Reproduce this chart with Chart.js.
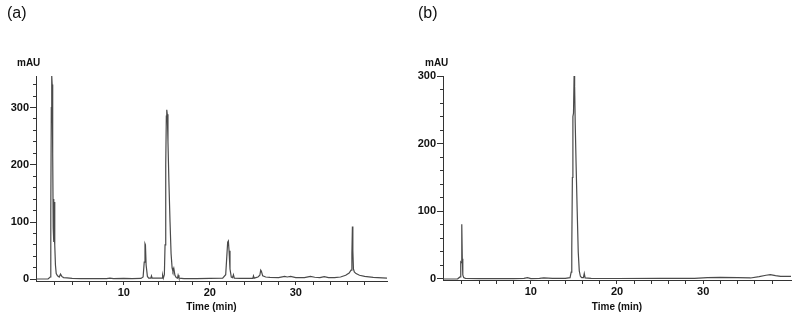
<!DOCTYPE html>
<html>
<head>
<meta charset="utf-8">
<script src="https://cdn.jsdelivr.net/npm/chart.js@4.4.1/dist/chart.umd.min.js"></script>
<style>
    body { margin: 0; background: #fff; }
    #wrap { position: relative; width: 800px; height: 320px; font-family: "Liberation Sans", Arial, sans-serif; color: #111; }
    .panel { position: absolute; top: 0; width: 400px; height: 320px; }
    .tag { position: absolute; font-size: 16px; line-height: 1; }
    .unit { position: absolute; font-size: 10px; font-weight: bold; line-height: 1; }
</style>
</head>
<body>
<div id="wrap">
    <div class="panel" style="left:0"><canvas id="chartA" width="400" height="320"></canvas></div>
    <div class="panel" style="left:400px"><canvas id="chartB" width="400" height="320"></canvas></div>
    <div class="tag" style="left:7px;top:5px">(a)</div>
    <div class="tag" style="left:418px;top:5px">(b)</div>
    <div class="unit" style="left:17px;top:58px">mAU</div>
    <div class="unit" style="left:425px;top:58px">mAU</div>
</div>
<script>
// chromatogram (a): retention time (min) / absorbance (mAU)
var timeA = [
    -0.2, 1.2, 1.45, 1.52, 1.58, 1.63, 1.68, 1.74, 1.8, 1.85, 1.88, 1.92, 1.96, 2.0, 2.06, 2.15,
    2.3, 2.5, 2.65, 2.8, 3.0, 3.4, 4.0, 5.0, 6.5, 8.0, 8.4, 8.8, 10.0, 11.0, 12.0,
    12.25, 12.38, 12.47, 12.52, 12.6, 12.75, 12.9, 13.15, 13.22, 13.3, 14.2, 14.45, 14.52, 14.6,
    14.72, 14.8, 14.88, 14.95, 15.0, 15.06, 15.14, 15.25, 15.38, 15.5, 15.62, 15.72, 15.82, 15.95, 16.1, 16.25, 16.32, 16.42,
    17.0, 18.5, 20.0, 21.5, 21.85, 21.98, 22.08, 22.16, 22.24, 22.35, 22.5, 22.65, 22.75, 22.85,
    23.5, 24.5, 25.0, 25.08, 25.16, 25.6, 25.82, 25.92, 26.0, 26.15, 26.5, 27.0,
    28.0, 28.7, 29.0, 29.4, 30.0, 31.0, 31.7, 32.2, 32.8, 33.3, 33.8, 34.5, 35.2,
    35.8, 36.2, 36.42, 36.52, 36.58, 36.63, 36.7, 36.8, 37.0, 37.4, 38.0, 39.0, 40.6
];
var absA = [
    0.5, 0.5, 4, 120, 300, 355, 340, 220, 90, 65, 140, 75, 135, 60, 25, 10,
    6, 4, 9, 5, 3, 2.5, 1.5, 1, 1, 1, 2, 1, 1.5, 1, 1.5,
    4, 30, 62, 60, 25, 5, 2, 2, 6, 2, 2, 2, 7, 2,
    8, 60, 200, 285, 296, 288, 240, 170, 100, 45, 20, 14, 19, 7, 3, 2, 7, 2,
    1, 1, 1.5, 2, 8, 40, 65, 67, 50, 18, 4, 3, 8, 2,
    1.5, 1.5, 1.5, 6, 2, 4, 7, 16, 14, 6, 4, 3.5,
    3, 5, 4, 5, 3, 3, 5, 3.5, 3, 4.5, 3, 3, 4,
    7, 11, 16, 45, 92, 50, 18, 13, 10, 7, 5, 3.5, 2
];

// chromatogram (b)
var timeB = [
    -0.2, 1.5, 1.78, 1.86, 1.92, 1.96, 2.0, 2.04, 2.1, 2.2, 2.4, 4.0, 6.0,
    8.0, 9.2, 9.6, 10.0, 11.0, 11.5, 12.5, 14.0, 14.55, 14.68, 14.75,
    14.82, 14.88, 14.95, 15.02, 15.08, 15.15, 15.25, 15.38, 15.5, 15.62, 15.75, 15.9, 16.1, 16.2, 16.3,
    17.0, 20.0, 25.0, 29.0, 30.5, 32.0, 34.0, 35.5, 36.5, 37.3, 37.8, 38.4, 39.0, 40.2
];
var absB = [
    0, 0.3, 3, 25, 24, 80, 81, 30, 6, 2, 1, 0.5, 0.5,
    0.6, 0.8, 2, 0.6, 0.8, 1.5, 1, 1, 2, 10, 45,
    150, 240, 245, 300, 285, 230, 170, 100, 40, 12, 4, 2, 2, 8, 1.5,
    0.8, 0.7, 0.8, 1, 2, 2.5, 2, 1.5, 3.5, 5.5, 6.5, 5, 4, 4
];

var xTicks = [2, 4, 6, 8, 10, 12, 14, 16, 18, 20, 22, 24, 26, 28, 30, 32, 34, 36, 38];
var xLabels = [10, 20, 30];
var yMajorTicks = [0, 100, 200, 300];
var yMinorTicksA = [20, 40, 60, 80, 120, 140, 160, 180, 220, 240, 260, 280, 320, 340];
var yMinorTicksB = [20, 40, 60, 80, 120, 140, 160, 180, 220, 240, 260, 280];

function toPoints(t, v) {
    return t.map(function (x, i) { return {x: x, y: v[i]}; });
}

function setTicks(values) {
    return function (scale) {
        scale.ticks = values.map(function (v) { return {value: v}; });
    };
}

function makeChart(id, cfg) {
    var axisColor = '#333';
    var tickFont = {family: 'Liberation Sans', size: 11, weight: 'bold'};
    return new Chart(document.getElementById(id), {
        type: 'line',
        data: {
            datasets: [{
                data: toPoints(cfg.time, cfg.abs),
                borderColor: '#4a4a4a',
                borderWidth: 1.2,
                pointRadius: 0,
                tension: 0,
                fill: false,
                yAxisID: 'y'
            }]
        },
        options: {
            responsive: false,
            animation: false,
            events: [],
            layout: {padding: {left: 0, right: cfg.padRight, top: 76, bottom: 0}},
            plugins: {legend: {display: false}, tooltip: {enabled: false}},
            scales: {
                x: {
                    type: 'linear',
                    min: cfg.xMin,
                    max: cfg.xMax,
                    afterFit: function (s) { s.height = cfg.xHeight; },
                    afterBuildTicks: setTicks(xTicks),
                    grid: {drawOnChartArea: false, tickLength: 4, color: axisColor},
                    border: {color: axisColor},
                    ticks: {
                        autoSkip: false,
                        maxRotation: 0,
                        padding: 1,
                        color: '#111',
                        font: tickFont,
                        callback: function (v) { return xLabels.indexOf(v) >= 0 ? String(v) : ''; }
                    },
                    title: {
                        display: true,
                        text: 'Time (min)',
                        color: '#111',
                        font: {family: 'Liberation Sans', size: 10, weight: 'bold'},
                        padding: {top: 0, bottom: 7}
                    }
                },
                y: {
                    type: 'linear',
                    position: 'left',
                    weight: 1,
                    min: cfg.yMin,
                    max: cfg.yMax,
                    afterFit: function (s) { s.width = cfg.yWidth; },
                    afterBuildTicks: setTicks(yMajorTicks),
                    grid: {drawOnChartArea: false, tickLength: 6, color: axisColor},
                    border: {color: axisColor},
                    ticks: {padding: 1, color: '#111', font: tickFont}
                },
                yMinor: {
                    type: 'linear',
                    position: 'left',
                    weight: 0,
                    min: cfg.yMin,
                    max: cfg.yMax,
                    afterFit: function (s) { s.width = 0; },
                    afterBuildTicks: setTicks(cfg.yMinor),
                    grid: {drawOnChartArea: false, tickLength: 3, color: axisColor},
                    border: {display: false},
                    ticks: {display: false}
                }
            }
        }
    });
}

makeChart('chartA', {
    time: timeA, abs: absA,
    xMin: -0.2, xMax: 40.6, yMin: -3, yMax: 355,
    yMinor: yMinorTicksA,
    padRight: 13, xHeight: 39, yWidth: 36
});

makeChart('chartB', {
    time: timeB, abs: absB,
    xMin: -0.2, xMax: 40.2, yMin: -1.5, yMax: 300,
    yMinor: yMinorTicksB,
    padRight: 9, xHeight: 40, yWidth: 43
});
</script>
</body>
</html>
